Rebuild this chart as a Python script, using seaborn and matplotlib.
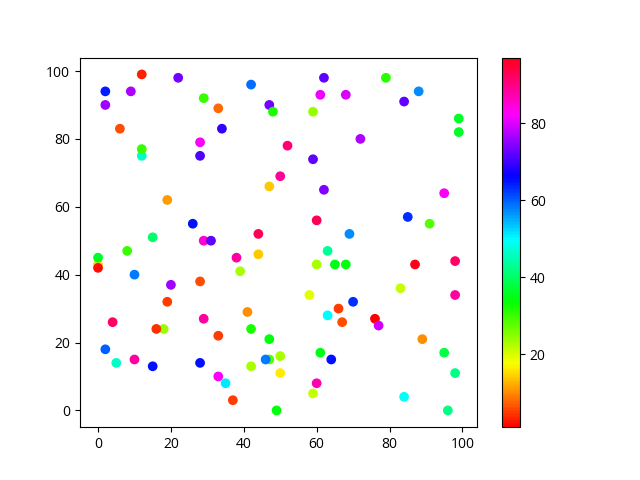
import matplotlib
matplotlib.use("Agg")
import matplotlib.pyplot as plt
import seaborn as sns
from matplotlib.colors import Normalize
from matplotlib.cm import ScalarMappable

x_vals = [0, 0, 0, 2, 2, 2, 4, 5, 6, 8, 9, 10, 10, 12, 12, 12, 15, 15, 18, 16,
          19, 19, 20, 22, 26, 28, 28, 28, 28, 29, 29, 31, 29, 33, 33, 33, 34, 35, 37, 38,
          39, 41, 42, 42, 42, 44, 44, 47, 48, 47, 47, 47, 46, 49, 50, 50, 50, 52, 58, 59,
          59, 59, 60, 60, 60, 61, 61, 62, 62, 63, 63, 64, 65, 66, 67, 68, 68, 69, 70, 72,
          76, 77, 79, 83, 84, 84, 85, 87, 88, 89, 91, 95, 95, 96, 98, 98, 98, 99, 99]
y_vals = [43, 45, 42, 94, 90, 18, 26, 14, 83, 47, 94, 40, 15, 99, 75, 77, 51, 13, 24, 24,
          62, 32, 37, 98, 55, 79, 75, 38, 14, 92, 50, 50, 27, 89, 22, 10, 83, 8, 3, 45,
          41, 29, 96, 24, 13, 52, 46, 90, 88, 66, 21, 15, 15, 0, 69, 16, 11, 78, 34, 88,
          74, 5, 56, 43, 8, 93, 17, 98, 65, 47, 28, 15, 43, 30, 26, 43, 93, 52, 32, 80,
          27, 25, 98, 36, 91, 4, 57, 43, 94, 21, 55, 64, 17, 0, 44, 34, 11, 86, 82]
c_vals = [15, 36, 2, 64, 76, 60, 92, 46, 6, 30, 77, 58, 88, 3, 46, 30, 40, 65, 24, 4,
          11, 5, 76, 73, 65, 82, 71, 6, 65, 30, 85, 72, 88, 8, 5, 82, 69, 51, 5, 88,
          23, 10, 59, 32, 23, 93, 14, 73, 32, 14, 34, 28, 58, 34, 89, 23, 16, 91, 19, 24,
          72, 21, 93, 23, 87, 81, 35, 72, 74, 43, 50, 65, 35, 5, 6, 34, 80, 57, 63, 77,
          1, 79, 31, 21, 72, 49, 63, 97, 57, 10, 28, 82, 38, 42, 92, 88, 42, 36, 36]

plt.rcParams['font.family'] = ['Open Sans', 'DejaVu Sans']

fig, ax = plt.subplots(figsize=(6.4, 4.8), dpi=100)
norm = Normalize(vmin=min(c_vals), vmax=max(c_vals))
sns.scatterplot(x=x_vals, y=y_vals, hue=c_vals, palette='hsv', hue_norm=norm,
                legend=False, s=36, linewidth=1, edgecolor='face', ax=ax)
sm = ScalarMappable(norm=norm, cmap='hsv')
fig.colorbar(sm, ax=ax)
fig.savefig("out.png", dpi=100)
